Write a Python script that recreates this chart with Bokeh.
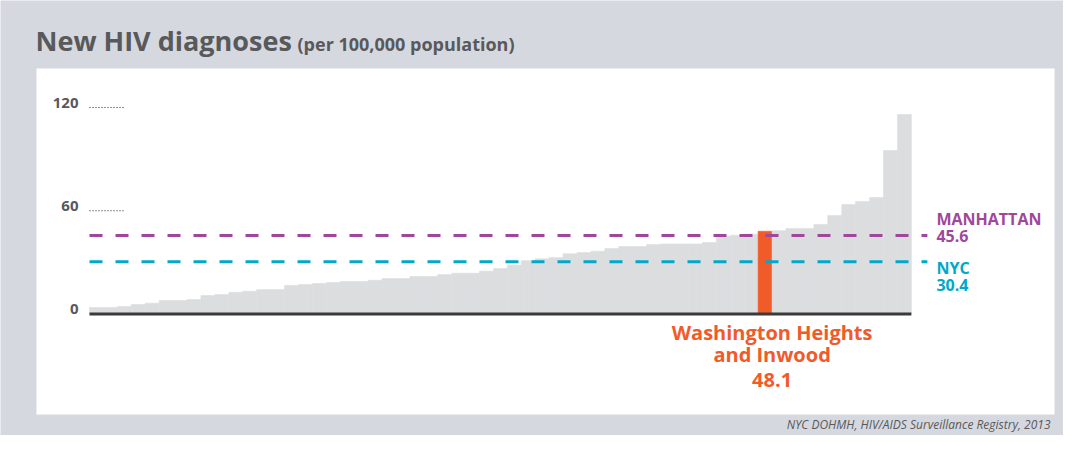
from bokeh.plotting import figure
from bokeh.models import Range1d, Label, ColumnDataSource, BoxAnnotation
from bokeh.embed import file_html
from bokeh.resources import INLINE

# ---- data ----
values = [3.8, 3.8, 4.4, 5.5, 6.3, 7.8, 7.8, 8.4, 10.7, 11.3,
          12.6, 13.2, 14.2, 14.2, 16.6, 17.1, 17.7, 18.3, 18.9, 18.9,
          19.6, 20.6, 20.6, 21.8, 21.8, 22.9, 23.7, 23.7, 24.9, 26.4,
          28.4, 31.0, 32.1, 32.8, 35.0, 35.7, 36.5, 38.1, 39.2, 39.2,
          40.4, 40.7, 40.7, 40.7, 41.5, 45.2, 45.8, 46.4, 48.1, 48.4,
          49.7, 49.7, 52.0, 57.2, 63.6, 65.4, 67.7, 95.0, 115.9]
highlight_index = 48
highlight_name = ["Washington Heights", "and Inwood"]
highlight_value = "48.1"
manhattan_value = 45.6
nyc_value = 30.4
tick_values = [0, 60, 120]
tick_labels = ["0", "60", "120"]
title = "New HIV diagnoses"
subtitle = "(per 100,000 population)"
source_text = "NYC DOHMH, HIV/AIDS Surveillance Registry, 2013"

# ---- style ----
W, H = 1063, 435
OUTER = "#d6d8df"
BAR = "#dcdddf"
ORANGE = "#f15a29"
PURPLE = "#a0479c"
TEAL = "#00a9c9"
TEXT = "#58595b"
AXIS = "#3a3a3c"
FONT = "Open Sans"

n = len(values)
xs = [i + 0.5 for i in range(n)]
colors = [ORANGE if i == highlight_index else BAR for i in range(n)]
src = ColumnDataSource(dict(x=xs, top=values, color=colors))

BAR_PX = 13.93     # pixel width of one bar
X0_PX = 89         # pixel position of first bar's left edge
Y0_PX = 313.5      # pixel position of the zero baseline (from top)
PX_PER_UNIT = 1.721


def lift(fs):
    # empirical correction of the rendered baseline
    return 0.38 * fs


p = figure(width=W, height=H, output_backend="svg", toolbar_location=None,
           x_range=Range1d(-X0_PX / BAR_PX, (W - X0_PX) / BAR_PX),
           y_range=Range1d((Y0_PX - H) / PX_PER_UNIT, Y0_PX / PX_PER_UNIT),
           x_axis_location=None, y_axis_location=None,
           min_border_left=0, min_border_right=0, min_border_top=0, min_border_bottom=0)
p.border_fill_color = OUTER
p.background_fill_color = OUTER
p.outline_line_color = None
p.grid.visible = False

# white inner panel (screen units: x from left, y from bottom)
p.add_layout(BoxAnnotation(left=36, right=1054, top=H - 68, bottom=H - 414,
                           left_units="screen", right_units="screen",
                           top_units="screen", bottom_units="screen",
                           fill_color="white", fill_alpha=1.0, line_color=None,
                           level="underlay"))

p.vbar(x="x", top="top", bottom=0, width=1.0, color="color", line_width=0.6, source=src)

# baseline axis
p.segment(x0=[0], y0=[0], x1=[n], y1=[0], line_color=AXIS, line_width=3)

# dotted tick marks and labels
for v, t in zip(tick_values, tick_labels):
    if v > 0:
        p.segment(x0=[0], y0=[v], x1=[2.55], y1=[v], line_color="#222222",
                  line_width=1, line_dash="1 2")
    p.add_layout(Label(x=0, y=v, x_offset=-11, y_offset=-1 + lift(15), text=t,
                       text_align="right", text_baseline="alphabetic", text_font=FONT,
                       text_font_style="bold", text_font_size="15px", text_color=TEXT))

# reference lines
line_end = n + 1.15
p.segment(x0=[0], y0=[manhattan_value], x1=[line_end], y1=[manhattan_value],
          line_color=PURPLE, line_width=3, line_dash="13 13")
p.segment(x0=[0], y0=[nyc_value], x1=[line_end], y1=[nyc_value],
          line_color=TEAL, line_width=3, line_dash="13 13")

lx = n + 1.8
for txt, val, off, col in [("MANHATTAN", manhattan_value, 10, PURPLE),
                           (f"{manhattan_value}", manhattan_value, -6.7, PURPLE),
                           ("NYC", nyc_value, -12.1, TEAL),
                           (f"{nyc_value}", nyc_value, -29.5, TEAL)]:
    p.add_layout(Label(x=lx, y=val, y_offset=off + lift(16), text=txt, text_align="left",
                       text_baseline="alphabetic", text_font=FONT, text_font_style="bold",
                       text_font_size="16px", text_color=col))

# highlight label
hx = highlight_index + 0.5
for txt, off in [(highlight_name[0], -26.5), (highlight_name[1], -48.5), (highlight_value, -73.5)]:
    p.add_layout(Label(x=hx, y=0, x_offset=7, y_offset=off + lift(20), text=txt,
                       text_align="center", text_baseline="alphabetic", text_font=FONT,
                       text_font_style="bold", text_font_size="20px", text_color=ORANGE))

# title / subtitle / source (screen units)
p.add_layout(Label(x=35, y=H - 50 + lift(27), x_units="screen", y_units="screen", text=title,
                   text_baseline="alphabetic", text_font=FONT, text_font_style="bold",
                   text_font_size="27px", text_color=TEXT))
p.add_layout(Label(x=297, y=H - 50 + lift(18), x_units="screen", y_units="screen", text=subtitle,
                   text_baseline="alphabetic", text_font=FONT, text_font_style="bold",
                   text_font_size="18px", text_color=TEXT))
p.add_layout(Label(x=1050, y=H - 429 + lift(12), x_units="screen", y_units="screen",
                   text=source_text, text_align="right", text_baseline="alphabetic",
                   text_font=FONT, text_font_style="italic", text_font_size="12px",
                   text_color=TEXT))

open("out.html", "w").write(file_html(p, INLINE))
